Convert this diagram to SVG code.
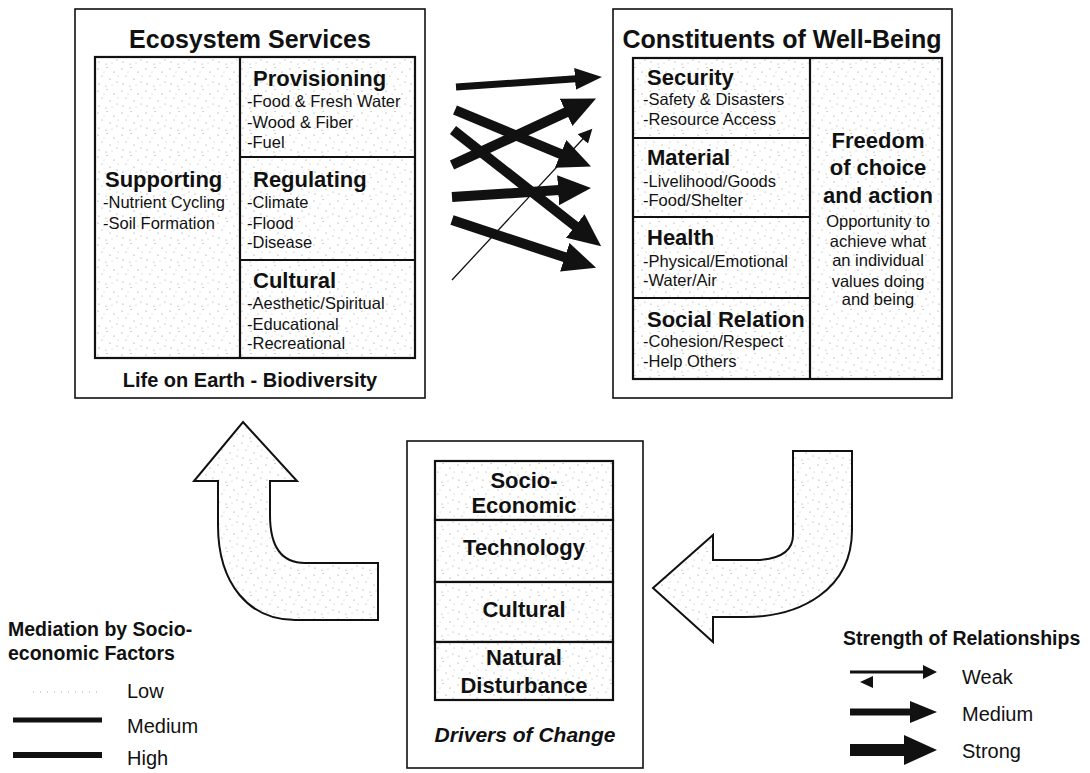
<svg xmlns="http://www.w3.org/2000/svg" width="1090" height="773" viewBox="0 0 1090 773">
  <defs>
    <!-- light speckled fill used inside the cells and the big arrows -->
    <pattern id="stipple" width="24" height="22" patternUnits="userSpaceOnUse">
      <rect width="24" height="22" fill="#fff"/>
      <g fill="#8a8a8a">
        <circle cx="2" cy="3" r="0.55"/>
        <circle cx="11" cy="1.5" r="0.5"/>
        <circle cx="18" cy="6" r="0.6"/>
        <circle cx="6" cy="10" r="0.5"/>
        <circle cx="14" cy="13" r="0.55"/>
        <circle cx="21" cy="16" r="0.5"/>
        <circle cx="3" cy="18" r="0.6"/>
        <circle cx="10" cy="20" r="0.5"/>
        <circle cx="22" cy="10" r="0.45"/>
        <circle cx="16" cy="19" r="0.45"/>
        <circle cx="8" cy="6" r="0.4"/>
      </g>
    </pattern>
    <marker id="head-strong" markerUnits="userSpaceOnUse" markerWidth="36" markerHeight="32" viewBox="0 -16 36 32" refX="1" refY="0" orient="auto">
      <path d="M0,-15 L33,0 L0,15 Z" fill="#111"/>
    </marker>
    <marker id="head-medium" markerUnits="userSpaceOnUse" markerWidth="30" markerHeight="24" viewBox="0 -12 30 24" refX="1" refY="0" orient="auto">
      <path d="M0,-11 L27,0 L0,11 Z" fill="#111"/>
    </marker>
    <marker id="head-weak" markerUnits="userSpaceOnUse" markerWidth="16" markerHeight="16" viewBox="0 -8 16 16" refX="1" refY="0" orient="auto">
      <path d="M0,-7 L14,0 L0,7 Z" fill="#111"/>
    </marker>
    <style>
      text { font-family: "Liberation Sans", Arial, sans-serif; fill: #111; }
      .title { font-size: 25px; font-weight: bold; }
      .head { font-size: 22px; font-weight: bold; }
      .body { font-size: 16.5px; }
      .mid { text-anchor: middle; }
      .outer { fill: #fff; stroke: #111; stroke-width: 1.6; }
      .cell { fill: url(#stipple); stroke: #111; stroke-width: 2.2; }
      .grid { stroke: #111; stroke-width: 2.2; fill: none; }
      .strong { stroke: #111; stroke-width: 10; fill: none; marker-end: url(#head-strong); }
      .medium { stroke: #111; stroke-width: 7; fill: none; marker-end: url(#head-medium); }
      .weak { stroke: #111; stroke-width: 1.3; fill: none; marker-end: url(#head-weak); }
      .bigarrow { fill: url(#stipple); stroke: #111; stroke-width: 2; stroke-linejoin: miter; }
      .legend { font-size: 20px; }
      .legend-title { font-size: 19.5px; font-weight: bold; }
    </style>
  </defs>

  <rect width="1090" height="773" fill="#fff"/>

  <!-- Ecosystem services box -->
  <g id="ecosystem-services">
    <rect class="outer" x="75" y="9" width="350" height="389"/>
    <text class="title mid" x="250" y="48">Ecosystem Services</text>
    <rect class="cell" x="95" y="57" width="320" height="301"/>
    <path class="grid" d="M240,57 V358 M240,157 H415 M240,260 H415"/>
    <text class="head" x="105" y="187">Supporting</text>
    <text class="body" x="103" y="208">-Nutrient Cycling</text>
    <text class="body" x="103" y="229">-Soil Formation</text>
    <text class="head" x="253" y="86">Provisioning</text>
    <text class="body" x="247" y="107">-Food &amp; Fresh Water</text>
    <text class="body" x="247" y="128">-Wood &amp; Fiber</text>
    <text class="body" x="247" y="148">-Fuel</text>
    <text class="head" x="253" y="187">Regulating</text>
    <text class="body" x="247" y="208">-Climate</text>
    <text class="body" x="247" y="229">-Flood</text>
    <text class="body" x="247" y="248">-Disease</text>
    <text class="head" x="253" y="288">Cultural</text>
    <text class="body" x="247" y="309">-Aesthetic/Spiritual</text>
    <text class="body" x="247" y="330">-Educational</text>
    <text class="body" x="247" y="349">-Recreational</text>
    <text class="mid" x="250" y="387" font-size="20" font-weight="bold">Life on Earth - Biodiversity</text>
  </g>

  <!-- Constituents of well-being box -->
  <g id="well-being">
    <rect class="outer" x="613" y="9" width="339" height="389"/>
    <text class="title mid" x="782" y="48">Constituents of Well-Being</text>
    <rect class="cell" x="633" y="58" width="309" height="321"/>
    <path class="grid" d="M810,58 V379 M633,138 H810 M633,217 H810 M633,298 H810"/>
    <text class="head" x="647" y="85">Security</text>
    <text class="body" x="643" y="105">-Safety &amp; Disasters</text>
    <text class="body" x="643" y="125">-Resource Access</text>
    <text class="head" x="647" y="165">Material</text>
    <text class="body" x="643" y="187">-Livelihood/Goods</text>
    <text class="body" x="643" y="206">-Food/Shelter</text>
    <text class="head" x="647" y="245">Health</text>
    <text class="body" x="643" y="267">-Physical/Emotional</text>
    <text class="body" x="643" y="286">-Water/Air</text>
    <text class="head" x="647" y="327">Social Relation</text>
    <text class="body" x="643" y="347">-Cohesion/Respect</text>
    <text class="body" x="643" y="367">-Help Others</text>
    <text class="head mid" x="878" y="148">Freedom</text>
    <text class="head mid" x="878" y="175">of choice</text>
    <text class="head mid" x="878" y="203">and action</text>
    <text class="body mid" x="878" y="227">Opportunity to</text>
    <text class="body mid" x="878" y="247">achieve what</text>
    <text class="body mid" x="878" y="266">an individual</text>
    <text class="body mid" x="878" y="287">values doing</text>
    <text class="body mid" x="878" y="305">and being</text>
  </g>

  <!-- Drivers of change box -->
  <g id="drivers-of-change">
    <rect class="outer" x="407" y="441" width="236" height="327"/>
    <rect class="cell" x="435" y="461" width="178" height="59"/>
    <rect class="cell" x="435" y="520" width="178" height="62"/>
    <rect class="cell" x="435" y="582" width="178" height="60"/>
    <rect class="cell" x="435" y="642" width="178" height="58"/>
    <text class="head mid" x="524" y="488">Socio-</text>
    <text class="head mid" x="524" y="513">Economic</text>
    <text class="head mid" x="524" y="555">Technology</text>
    <text class="head mid" x="524" y="617">Cultural</text>
    <text class="head mid" x="524" y="665">Natural</text>
    <text class="head mid" x="524" y="693">Disturbance</text>
    <text class="mid" x="525" y="742" font-size="21" font-weight="bold" font-style="italic">Drivers of Change</text>
  </g>

  <!-- relationship arrows between the boxes and feedback loops -->
  <g id="connectors">
    <line class="medium" x1="456" y1="87" x2="576" y2="78.8"/>
    <line class="strong" x1="452" y1="165" x2="567" y2="111.9"/>
    <line class="strong" x1="455" y1="110" x2="561.5" y2="154.3"/>
    <line class="strong" x1="453" y1="130" x2="576" y2="226.6"/>
    <line class="strong" x1="452" y1="197" x2="559.1" y2="190.1"/>
    <line class="strong" x1="452" y1="220" x2="565.7" y2="257.6"/>
    <line class="weak" x1="452" y1="280" x2="583.5" y2="138.3"/>
    <path class="bigarrow" d="M243,422 L297,481 L270,481 L270,515 Q270,563 305,563 L378,563 L378,620 L295,620 C250,620 218,585 218,525 L218,481 L194,481 Z"/>
    <path class="bigarrow" d="M793,451 L852,451 L852,530 C852,590 800,617 745,617 L713,617 L713,642 L653,588 L713,535 L713,560 L760,560 C785,558 793,548 793,535 Z"/>
  </g>

  <!-- mediation legend -->
  <g id="legend-mediation">
    <text class="legend-title" x="8" y="636">Mediation by Socio-</text>
    <text class="legend-title" x="8" y="660">economic Factors</text>
    <line x1="33" y1="692" x2="100" y2="692" stroke="#aaa" stroke-width="1.2" stroke-dasharray="1 6"/>
    <line x1="13" y1="720" x2="102" y2="720" stroke="#111" stroke-width="5"/>
    <line x1="13" y1="755" x2="102" y2="755" stroke="#111" stroke-width="6"/>
    <text class="legend" x="127" y="698">Low</text>
    <text class="legend" x="127" y="733">Medium</text>
    <text class="legend" x="127" y="765">High</text>
  </g>

  <!-- strength legend -->
  <g id="legend-strength">
    <text class="legend-title" x="843" y="645">Strength of Relationships</text>
    <line x1="850" y1="672" x2="924" y2="672" stroke="#111" stroke-width="3" marker-end="url(#head-weak)"/>
    <path d="M860,682 L873,676 L873,688 Z" fill="#111"/>
    <line class="medium" x1="850" y1="712" x2="911" y2="712"/>
    <line x1="850" y1="750" x2="905" y2="750" stroke="#111" stroke-width="12" marker-end="url(#head-strong)"/>
    <text class="legend" x="962" y="684">Weak</text>
    <text class="legend" x="962" y="721">Medium</text>
    <text class="legend" x="962" y="758">Strong</text>
  </g>
</svg>
